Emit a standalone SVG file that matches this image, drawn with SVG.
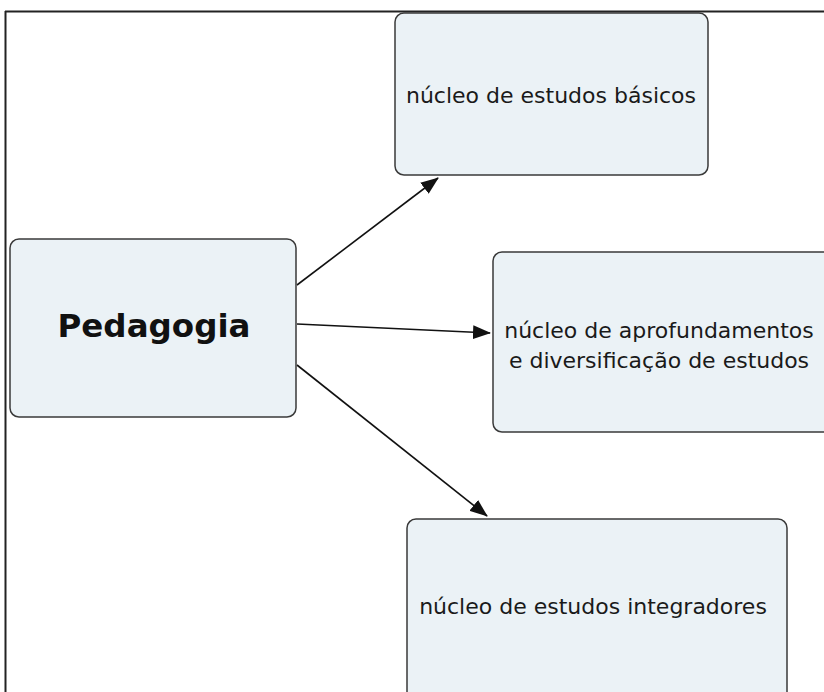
<svg xmlns="http://www.w3.org/2000/svg" width="824" height="692" viewBox="0 0 824 692">
<style>
.box{fill:#ebf2f6;stroke:#3a3a3a;stroke-width:1.5}
.t{font-family:"DejaVu Sans",Verdana,sans-serif;font-size:22px;fill:#1a1a1a;text-anchor:middle}
.b{font-family:"DejaVu Sans",Verdana,sans-serif;font-size:32.5px;font-weight:bold;fill:#111;text-anchor:middle}
.c{stroke:#111;stroke-width:1.6;fill:none;marker-end:url(#ah)}
</style>
<defs>
<marker id="ah" markerWidth="18" markerHeight="14" refX="17" refY="7" orient="auto" markerUnits="userSpaceOnUse">
<path d="M0,0 L18,7 L0,14 Z" fill="#111"/>
</marker>
</defs>
<rect width="824" height="692" fill="#fff"/>
<g id="frame">
<line x1="5" y1="11.5" x2="824" y2="11.5" stroke="#222" stroke-width="2"/>
<line x1="5.5" y1="11" x2="5.5" y2="692" stroke="#222" stroke-width="2"/>
</g>
<g id="connectors">
<line class="c" x1="297" y1="285" x2="438" y2="178"/>
<line class="c" x1="297" y1="324" x2="490" y2="333"/>
<line class="c" x1="297" y1="365" x2="487" y2="516"/>
</g>
<g id="pedagogia">
<rect class="box" x="10" y="239" width="286" height="178" rx="9"/>
<text class="b" x="154" y="337">Pedagogia</text>
</g>
<g id="basicos">
<rect class="box" x="395" y="13" width="313" height="162" rx="9"/>
<text class="t" x="551" y="103">núcleo de estudos básicos</text>
</g>
<g id="aprofundamentos">
<rect class="box" x="493" y="252" width="340" height="180" rx="9"/>
<text class="t" x="659" y="338">núcleo de aprofundamentos</text>
<text class="t" x="659" y="368">e diversificação de estudos</text>
</g>
<g id="integradores">
<rect class="box" x="407" y="519" width="380" height="190" rx="9"/>
<text class="t" x="593" y="614">núcleo de estudos integradores</text>
</g>
</svg>
